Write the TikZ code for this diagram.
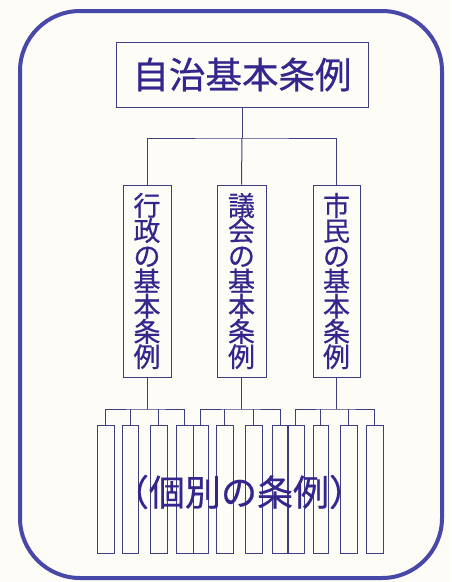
\documentclass[tikz,border=0pt]{standalone}
\usepackage{fontspec}
\newfontfamily\jp[FakeBold=0.6]{Noto Sans CJK JP}
\definecolor{framec}{RGB}{72,72,168}
\definecolor{linec}{RGB}{62,62,130}
\definecolor{textc}{RGB}{52,38,140}
\definecolor{paper}{RGB}{253,252,246}
\tikzset{
  box/.style={draw=linec, line width=1pt, rectangle, inner sep=0pt},
  conn/.style={draw=linec, line width=1pt},
  vtext/.style={box, minimum width=48pt, minimum height=192pt, align=center,
    font=\jp\fontsize{27}{25.2}\selectfont, text=textc},
  sbox/.style={box, minimum width=17pt, minimum height=128pt},
}
\begin{document}
\begin{tikzpicture}[x=1pt,y=-1pt]
\fill[paper] (0,0) rectangle (451,582);
\useasboundingbox (0,0) rectangle (451,582);
\draw[framec, line width=4pt, rounded corners=60pt] (20,11) rectangle (442,578);

\node[box, minimum width=252pt, minimum height=65pt, font=\jp\fontsize{36.5}{36.5}\selectfont, text=textc] (top) at (242,74.5) {自治基本条例};

\node[vtext] (m1) at (147,281) {行\\政\\の\\基\\本\\条\\例};
\node[vtext, minimum width=49pt] (m2) at (241.5,281) {議\\会\\の\\基\\本\\条\\例};
\node[vtext, minimum width=47pt] (m3) at (336.5,281) {市\\民\\の\\基\\本\\条\\例};

\coordinate (j0) at (242,138);
\draw[conn] (top.south) -- (j0);
\draw[conn] (m1.north) |- (j0) -| (m3.north);
\draw[conn] (j0) -- (m2.north);

% bottom boxes
\node[sbox] (b1) at (105.5,489) {};
\node[sbox, minimum width=16pt] (b2) at (130,489) {};
\node[sbox] (b3) at (158.5,489) {};
\node[sbox] (b4) at (184.5,489) {};
\node[sbox, minimum width=15pt] (b5) at (200.5,489) {};
\node[sbox] (b6) at (224.5,489) {};
\node[sbox] (b7) at (253.5,489) {};
\node[sbox, minimum width=16pt] (b8) at (280,489) {};
\node[sbox] (b9) at (295.5,489) {};
\node[sbox, minimum width=15pt] (b10) at (320.5,489) {};
\node[sbox] (b11) at (348.5,489) {};
\node[sbox] (b12) at (374.5,489) {};

\coordinate (g1) at (147,409);
\coordinate (g2) at (241.5,409);
\coordinate (g3) at (336.5,409);
\draw[conn] (m1.south) -- (g1);
\draw[conn] (m2.south) -- (g2);
\draw[conn] (m3.south) -- (g3);
\draw[conn] (b1.north) |- (g1) -| (b4.north);
\draw[conn] (b2.north) -- (b2.north |- g1);
\draw[conn] (b3.north) -- (b3.north |- g1);
\draw[conn] (b5.north) |- (g2) -| (b8.north);
\draw[conn] (b6.north) -- (b6.north |- g2);
\draw[conn] (b7.north) -- (b7.north |- g2);
\draw[conn] (b9.north) |- (g3) -| (b12.north);
\draw[conn] (b10.north) -- (b10.north |- g3);
\draw[conn] (b11.north) -- (b11.north |- g3);

\node[font=\jp\fontsize{36}{36}\selectfont, text=textc, inner sep=0pt] (lbl) at (239,492) {（個別の条例）};
\end{tikzpicture}
\end{document}
